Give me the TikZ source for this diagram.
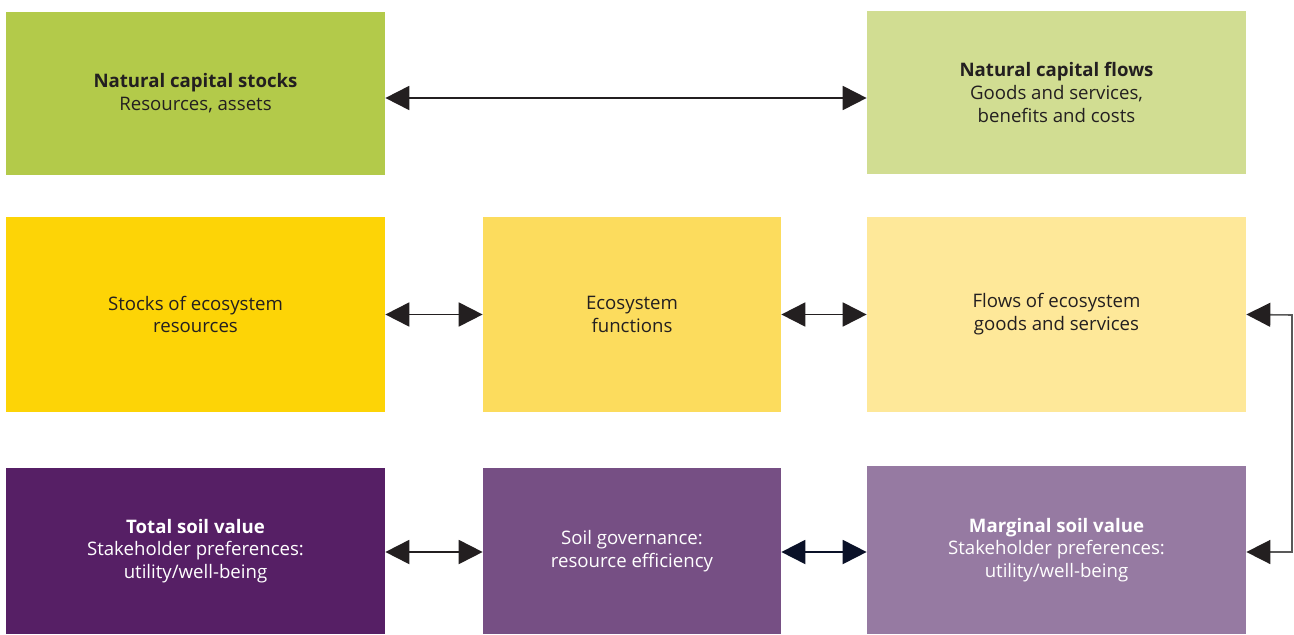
\documentclass[tikz,border=0pt]{standalone}
\usepackage{fontspec}
\setmainfont{Open Sans}
\usetikzlibrary{arrows.meta, positioning}
\definecolor{ncstock}{HTML}{B3CA4A}
\definecolor{ncflow}{HTML}{D1DD92}
\definecolor{ecostock}{HTML}{FDD406}
\definecolor{ecofunc}{HTML}{FCDC5D}
\definecolor{ecoflow}{HTML}{FEE899}
\definecolor{totval}{HTML}{561F65}
\definecolor{govval}{HTML}{764F84}
\definecolor{margval}{HTML}{967AA2}
\definecolor{darktext}{HTML}{231F20}
\definecolor{navy}{HTML}{0A1128}
\tikzset {
    box/.style={align=center, inner sep=0pt, text=darktext,
        font=\fontsize{10.6}{13}\selectfont},
    widebox/.style={box, minimum width=379*0.02cm},
    narrowbox/.style={box, minimum width=298*0.02cm},
    link/.style={{Triangle[length=0.48cm, width=0.48cm, color=#1, fill=#1]}-{Triangle[length=0.48cm, width=0.48cm, color=#1, fill=#1]},
        line width=1.1pt, draw=#1},
    link/.default=darktext
}

\begin{document}
\begin{tikzpicture}[x=0.02cm, y=-0.02cm]
    \useasboundingbox (0,0) rectangle (1294,635);

    % top row
    \node[widebox, fill=ncstock, minimum height=163*0.02cm] (ncs) at (195.5,93.5)
        {\textbf{Natural capital stocks}\\Resources, assets};
    \node[widebox, fill=ncflow, minimum height=163*0.02cm] (ncf) at (1056.5,92.5)
        {\textbf{Natural capital flows}\\Goods and services,\\benefits and costs};

    % middle row
    \node[widebox, fill=ecostock, minimum height=195*0.02cm] (ses) at (195.5,314.5)
        {Stocks of ecosystem\\resources};
    \node[narrowbox, fill=ecofunc, minimum height=195*0.02cm] (efn) at (632,314.5)
        {Ecosystem\\functions};
    \node[widebox, fill=ecoflow, minimum height=195*0.02cm] (fes) at (1056.5,314.5)
        {Flows of ecosystem\\goods and services};

    % bottom row
    \node[widebox, fill=totval, text=white, minimum height=166*0.02cm] (tsv) at (195.5,551)
        {\textbf{Total soil value}\\Stakeholder preferences:\\utility/well-being};
    \node[narrowbox, fill=govval, text=white, minimum height=166*0.02cm] (sgv) at (632,551)
        {Soil governance:\\resource efficiency};
    \node[widebox, fill=margval, text=white, minimum height=168*0.02cm] (msv) at (1056.5,550)
        {\textbf{Marginal soil value}\\Stakeholder preferences:\\utility/well-being};

    % arrows
    \draw[link] (ncs.east |- 0,98) -- (ncf.west |- 0,98);
    \draw[link] (ses.east) -- (efn.west);
    \draw[link] (efn.east) -- (fes.west);
    \draw[link] (tsv.east |- 0,552) -- (sgv.west |- 0,552);
    \draw[link=navy] (sgv.east |- 0,552) -- (msv.west |- 0,552);
    \coordinate (rtop) at (1292,315);
    \coordinate (rbot) at (1292,552);
    \draw[link, line width=0.9pt, draw=black!65]
        (fes.east) -- (rtop) -- (rbot) -- (msv.east |- rbot);
\end{tikzpicture}
\end{document}
